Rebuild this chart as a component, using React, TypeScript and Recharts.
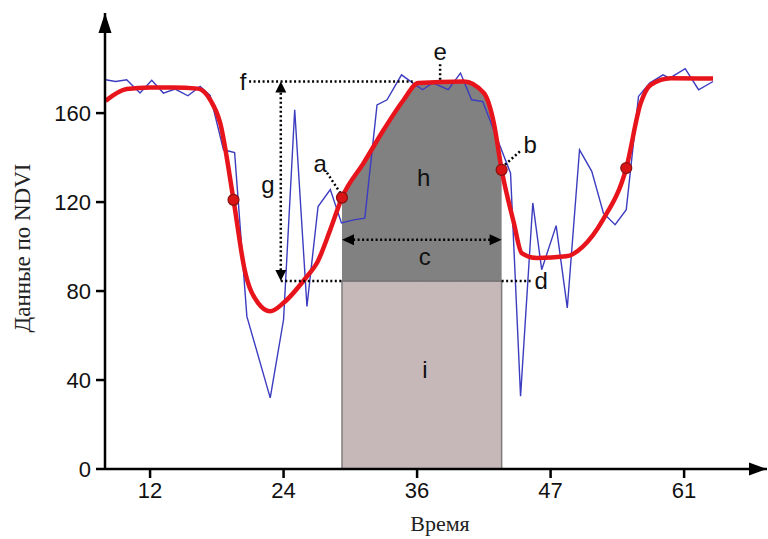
import {
  ComposedChart,
  Line,
  Area,
  Scatter,
  XAxis,
  YAxis,
  ReferenceArea,
  ReferenceLine,
  ReferenceDot,
} from 'recharts'

// raw NDVI observations (blue)
const rawTime = [
  8, 8.9, 9.9, 11.1, 12.15, 13.2, 14.25, 15.4, 16.5, 17.4, 18.6, 19.6, 20.7, 22.8, 24, 25, 26.1, 27.1, 28.2,
  29.2, 30.3, 31.3, 32.4, 33.3, 34.6, 35.6, 36.5, 37.4, 38.8, 39.9, 40.9, 41.9, 44.4, 45.3, 46.4, 47.2, 48.5,
  49.5, 50.6, 51.7, 52.75, 53.8, 54.8, 55.9, 56.9, 58.1, 58.7, 60.1, 61.3, 62.6,
]
const rawNdvi = [
  175, 174.2, 175, 169, 174.7, 169, 170.8, 167.8, 172, 168, 143.5, 142.3, 68.6, 32, 67.2, 161.5, 73.1, 118, 125.6,
  110.6, 112, 112.8, 163.7, 166, 177.2, 173.6, 170.5, 173.6, 170.5, 178, 166, 165.2, 133, 32.7, 119.6, 89.6, 109.4,
  72.4, 143.5, 133.8, 115, 109.8, 116.6, 167.5, 173.5, 177.2, 175.7, 180, 170.5, 174.2,
]

// smoothed NDVI curve (red)
const fitTime = [
  8, 9.9, 12, 14, 16.3, 17.4, 18.3, 19.5, 20.5, 21.7, 22.8, 24, 26.1, 27, 28.2, 29.25, 31.2, 33, 34.8, 36.1, 40.2,
  42, 42.9, 43.6, 44.7, 45.4, 46.75, 49.4, 50.9, 52.7, 54.8, 56.1, 57, 58.8, 62.6,
]
const fitNdvi = [
  165.5, 170.8, 171.5, 171.5, 171, 166, 155.6, 121, 89.6, 74.7, 70.9, 74.7, 86.6, 92.6, 107.6, 122, 137.6, 152.5,
  166, 173.5, 174.2, 169, 155.5, 134.5, 110.6, 97.1, 94.9, 95.6, 100, 112, 135.3, 164.5, 172.7, 175.7, 175.5,
]

// phenology points
const phenoTime = [19.5, 29.25, 43.6, 54.8]
const phenoNdvi = [121, 122, 134.5, 135.3]

const seasonStart = 29.25
const seasonEnd = 43.6
const baseLevel = 84.5
const peakLevel = 174.2

const yTicks = [0, 40, 80, 120, 160]
const xTicks = [12, 24, 36, 48, 60]
const xTickLabels = ['12', '24', '36', '47', '61']

// annotation letters
const noteText = ['f', 'g', 'a', 'h', 'c', 'e', 'b', 'd', 'i']
const noteTime = [20.36, 22.6, 27.3, 36.6, 36.7, 38.07, 46.16, 47.15, 36.7]
const noteNdvi = [174.1, 127.8, 137.2, 131, 95.5, 187.6, 145.8, 84.7, 44.7]

const rawData = rawTime.map((t, i) => ({ x: t, y: rawNdvi[i] }))
const fitData = fitTime.map((t, i) => ({ x: t, y: fitNdvi[i] }))
const seasonData = fitData
  .filter((d) => d.x >= seasonStart && d.x <= seasonEnd)
  .map((d) => ({ ...d, base: baseLevel }))
const phenoData = phenoTime.map((t, i) => ({ x: t, y: phenoNdvi[i] }))

const sans = 'Liberation Sans, Arial, sans-serif'
const serif = 'Liberation Serif, Times New Roman, serif'

const arrow = (dir: 'up' | 'down' | 'left' | 'right', len: number, half: number) => (p: any) => {
  const { cx, cy } = p
  let pts = ''
  if (dir === 'up') pts = `${cx},${cy} ${cx - half},${cy + len} ${cx + half},${cy + len}`
  if (dir === 'down') pts = `${cx},${cy} ${cx - half},${cy - len} ${cx + half},${cy - len}`
  if (dir === 'left') pts = `${cx},${cy} ${cx + len},${cy - half} ${cx + len},${cy + half}`
  if (dir === 'right') pts = `${cx},${cy} ${cx - len},${cy - half} ${cx - len},${cy + half}`
  return <polygon points={pts} fill="#000" />
}

const letter = (txt: string) => (p: any) => (
  <text x={p.cx} y={p.cy} textAnchor="middle" dominantBaseline="central" fontSize={24} fontFamily={sans} fill="#111">
    {txt}
  </text>
)

const dotted = { stroke: '#000', strokeWidth: 2.5, strokeDasharray: '2 2.5' }

const App = () => {
  return (
    <div style={{ position: 'absolute', left: 0, top: 0, width: 768, height: 539, background: '#fff' }}>
      <ComposedChart width={768} height={539} margin={{ top: 13, right: 1, bottom: 40, left: 0 }}>
        <XAxis
          type="number"
          dataKey="x"
          domain={[7.95, 67.45]}
          ticks={xTicks}
          tickFormatter={(v: number) => xTickLabels[xTicks.indexOf(v)]}
          height={30}
          axisLine={{ stroke: '#000', strokeWidth: 2.5 }}
          tickLine={{ stroke: '#000', strokeWidth: 2.5 }}
          tickSize={9}
          tickMargin={4}
          tick={{ fontSize: 22, fontFamily: sans, fill: '#111' }}
          label={{
            content: (props: any) => {
              const vb = props.viewBox || { x: 105, y: 469, width: 662 }
              return (
                <text x={vb.x + 335} y={531} textAnchor="middle" fontSize={22} fontFamily={serif} fill="#222">
                  Время
                </text>
              )
            },
          }}
        />
        <YAxis
          type="number"
          domain={[0, 205]}
          ticks={yTicks}
          width={105}
          axisLine={{ stroke: '#000', strokeWidth: 2.5 }}
          tickLine={{ stroke: '#000', strokeWidth: 2.5 }}
          tickSize={9}
          tickMargin={5}
          tick={{ fontSize: 22, fontFamily: sans, fill: '#111' }}
          label={{
            content: () => (
              <text
                x={22}
                y={248}
                transform="rotate(-90 22 248)"
                textAnchor="middle"
                dominantBaseline="central"
                fontSize={23}
                fontFamily={serif}
                fill="#222"
              >
                Данные по NDVI
              </text>
            ),
          }}
        />

        <ReferenceArea
          x1={seasonStart}
          x2={seasonEnd}
          y1={0}
          y2={baseLevel}
          fill="#c6b8b8"
          fillOpacity={1}
          stroke="#7d7d7d"
          strokeWidth={1.5}
        />
        <Area
          data={seasonData}
          dataKey={(d: any) => [d.base, d.y]}
          type="monotone"
          fill="#818181"
          fillOpacity={1}
          stroke="#6e6e6e"
          strokeWidth={1}
          isAnimationActive={false}
        />

        <Line
          data={rawData}
          dataKey="y"
          type="linear"
          stroke="#3c3cc0"
          strokeWidth={1.4}
          dot={false}
          isAnimationActive={false}
        />
        <Line
          data={fitData}
          dataKey="y"
          type="monotone"
          stroke="#e8141c"
          strokeWidth={4.5}
          strokeLinejoin="round"
          dot={false}
          isAnimationActive={false}
        />

        {/* f, g, c, d guide lines */}
        <ReferenceLine segment={[{ x: 20.9, y: peakLevel }, { x: 35.6, y: peakLevel }]} {...dotted} />
        <ReferenceLine segment={[{ x: 23.75, y: peakLevel - 3 }, { x: 23.75, y: baseLevel + 3 }]} {...dotted} />
        <ReferenceLine segment={[{ x: 23.75, y: baseLevel }, { x: seasonStart, y: baseLevel }]} {...dotted} />
        <ReferenceLine segment={[{ x: seasonEnd, y: baseLevel }, { x: 46.2, y: baseLevel }]} {...dotted} />
        <ReferenceLine segment={[{ x: seasonStart + 1, y: 103.1 }, { x: seasonEnd - 1, y: 103.1 }]} {...dotted} />
        {/* leaders */}
        <ReferenceLine segment={[{ x: 38.07, y: 182 }, { x: 38.07, y: 175 }]} {...dotted} />
        <ReferenceLine segment={[{ x: 27.9, y: 133.2 }, { x: 29.08, y: 124.2 }]} {...dotted} />
        <ReferenceLine segment={[{ x: 43.9, y: 136.8 }, { x: 45.4, y: 143.5 }]} {...dotted} />

        <ReferenceDot x={23.75} y={peakLevel} r={0} shape={arrow('up', 11, 5.5)} ifOverflow="visible" />
        <ReferenceDot x={23.75} y={baseLevel} r={0} shape={arrow('down', 11, 5.5)} ifOverflow="visible" />
        <ReferenceDot x={seasonStart} y={103.1} r={0} shape={arrow('left', 12, 5.5)} ifOverflow="visible" />
        <ReferenceDot x={seasonEnd} y={103.1} r={0} shape={arrow('right', 12, 5.5)} ifOverflow="visible" />

        {/* axis arrowheads */}
        <ReferenceDot x={7.95} y={205} r={0} shape={arrow('up', 20, 6.5)} ifOverflow="visible" />
        <ReferenceDot x={67.45} y={0} r={0} shape={arrow('right', 18, 6.5)} ifOverflow="visible" />

        <Scatter
          data={phenoData}
          dataKey="y"
          fill="#d81414"
          stroke="#8a1010"
          strokeWidth={1.2}
          shape={(p: any) => <circle cx={p.cx} cy={p.cy} r={5.5} fill="#d81414" stroke="#8a1010" strokeWidth={1.2} />}
          isAnimationActive={false}
        />

        {noteText.map((t, i) => (
          <ReferenceDot key={t} x={noteTime[i]} y={noteNdvi[i]} r={0} shape={letter(t)} ifOverflow="visible" />
        ))}
      </ComposedChart>
    </div>
  )
}

export default App
